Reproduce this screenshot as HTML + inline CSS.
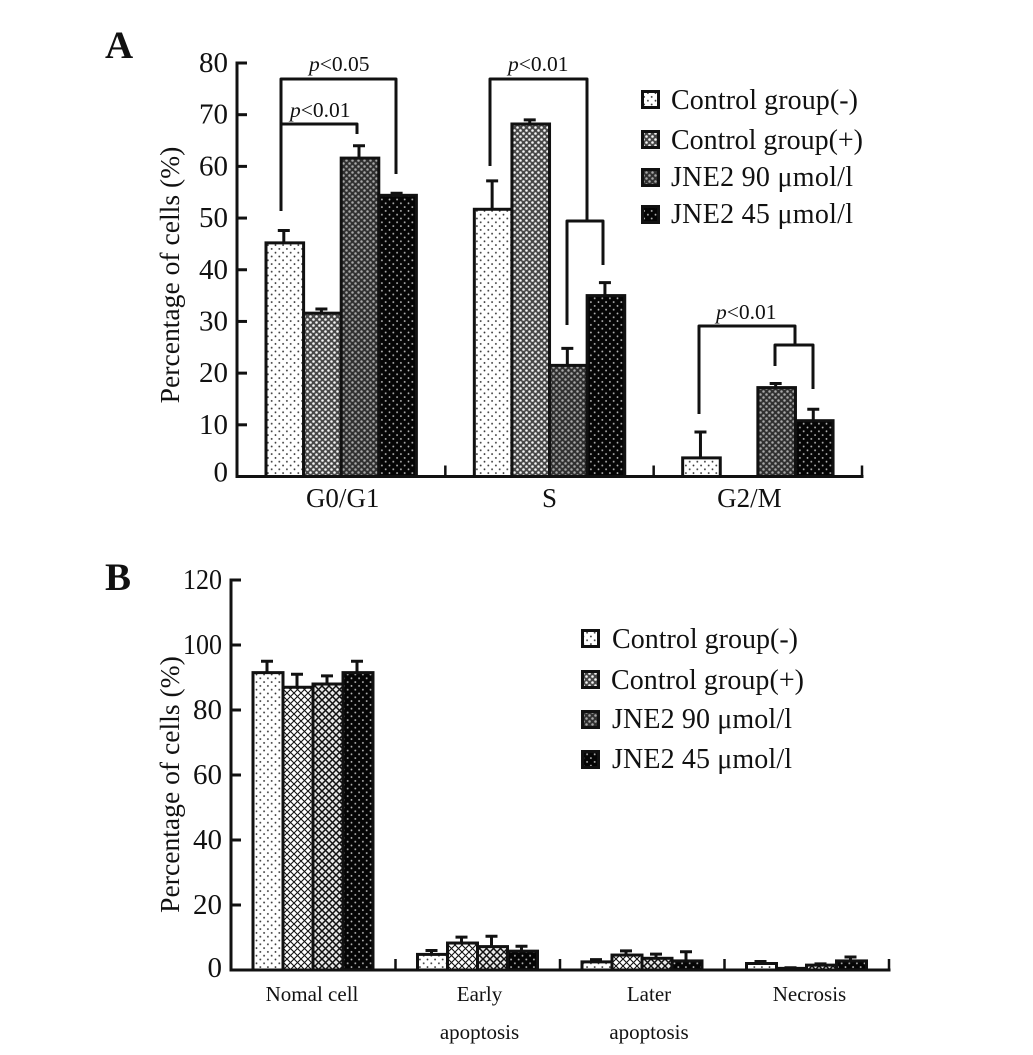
<!DOCTYPE html>
<html lang="en">
<head>
<meta charset="utf-8">
<title>Cell cycle and apoptosis chart</title>
<style>
html,body{margin:0;padding:0;background:#fff;}
svg{display:block;}
text{font-family:"Liberation Serif",serif;fill:#111;}
</style>
</head>
<body>
<svg id="chart" xmlns="http://www.w3.org/2000/svg" width="1033" height="1055" viewBox="0 0 1033 1055">
<defs>
<pattern id="p0" patternUnits="userSpaceOnUse" width="7.6" height="7.6">
<rect width="7.6" height="7.6" fill="#fff"/>
<circle cx="1.9" cy="1.9" r="0.9" fill="#333"/><circle cx="5.7" cy="5.7" r="0.9" fill="#333"/>
</pattern>
<pattern id="p1" patternUnits="userSpaceOnUse" width="6" height="6">
<rect width="6" height="6" fill="#484848"/>
<circle cx="1.5" cy="1.5" r="1.3" fill="#f4f4f4"/><circle cx="4.5" cy="4.5" r="1.3" fill="#f4f4f4"/>
</pattern>
<pattern id="p2" patternUnits="userSpaceOnUse" width="6" height="6">
<rect width="6" height="6" fill="#303030"/>
<circle cx="1.5" cy="1.5" r="1.25" fill="#a8a8a8"/><circle cx="4.5" cy="4.5" r="1.25" fill="#a8a8a8"/>
</pattern>
<pattern id="p3" patternUnits="userSpaceOnUse" width="7.6" height="7.6">
<rect width="7.6" height="7.6" fill="#050505"/>
<circle cx="1.9" cy="1.9" r="0.9" fill="#bbb"/><circle cx="5.7" cy="5.7" r="0.9" fill="#bbb"/>
</pattern>
<pattern id="q1" patternUnits="userSpaceOnUse" width="7" height="7">
<rect width="7" height="7" fill="#fff"/>
<path d="M0 0L7 7M7 0L0 7" stroke="#111" stroke-width="1.1"/>
</pattern>
<pattern id="q2" patternUnits="userSpaceOnUse" width="7" height="7">
<rect width="7" height="7" fill="#e8e8e8"/>
<path d="M0 0L7 7M7 0L0 7" stroke="#111" stroke-width="1.5"/>
</pattern>
</defs>
<rect width="1033" height="1055" fill="#fff"/>

<text x="105" y="58" font-size="39" font-weight="bold">A</text>
<text x="105" y="590" font-size="39" font-weight="bold">B</text>

<text transform="translate(179,275) rotate(-90)" font-size="27.6" text-anchor="middle">Percentage of cells (%)</text>
<text transform="translate(179,784.5) rotate(-90)" font-size="27.6" text-anchor="middle">Percentage of cells (%)</text>

<g id="panelA"></g>
<g id="panelB"></g>

<g fill="none" stroke="#111" stroke-width="3" stroke-linejoin="round">
<path d="M281 211V79H396V174"/>
<path d="M281 124H357V134"/>
<path d="M490 166V79H587V221"/>
<path d="M567 325V221H603V265"/>
<path d="M699 414V326H795V345"/>
<path d="M775 366V345H813V389"/>
</g>
<g font-size="21.5">
<text x="309" y="71"><tspan font-style="italic">p</tspan>&lt;0.05</text>
<text x="290" y="117"><tspan font-style="italic">p</tspan>&lt;0.01</text>
<text x="508" y="71"><tspan font-style="italic">p</tspan>&lt;0.01</text>
<text x="716" y="319"><tspan font-style="italic">p</tspan>&lt;0.01</text>
</g>

<g font-size="28">
<g><rect x="642.5" y="91.5" width="16" height="16" fill="url(#p0)" stroke="#111" stroke-width="3"/><text x="671" y="109" textLength="187">Control group(-)</text></g>
<g><rect x="642.5" y="131.5" width="16" height="16" fill="url(#p1)" stroke="#111" stroke-width="3"/><text x="671" y="149" textLength="192">Control group(+)</text></g>
<g><rect x="642.5" y="169.5" width="16" height="16" fill="url(#p2)" stroke="#111" stroke-width="3"/><text x="671" y="186" textLength="182">JNE2 90 μmol/l</text></g>
<g><rect x="642.5" y="206.5" width="16" height="16" fill="url(#p3)" stroke="#111" stroke-width="3"/><text x="671" y="223" textLength="182">JNE2 45 μmol/l</text></g>
</g>
<g font-size="28">
<g><rect x="582.5" y="630.5" width="16" height="16" fill="url(#p0)" stroke="#111" stroke-width="3"/><text x="612" y="648" textLength="186">Control group(-)</text></g>
<g><rect x="582.5" y="671.5" width="16" height="16" fill="url(#p1)" stroke="#111" stroke-width="3"/><text x="611" y="689" textLength="193">Control group(+)</text></g>
<g><rect x="582.5" y="711.5" width="16" height="16" fill="url(#p2)" stroke="#111" stroke-width="3"/><text x="612" y="728" textLength="180">JNE2 90 μmol/l</text></g>
<g><rect x="582.5" y="751.5" width="16" height="16" fill="url(#p3)" stroke="#111" stroke-width="3"/><text x="612" y="768" textLength="180">JNE2 45 μmol/l</text></g>
</g>
</svg>
<script>
var seriesNames = ["control-negative", "control-positive", "jne2-90", "jne2-45"];

var categoriesA = ["G0/G1", "S", "G2/M"];
var controlNegativeA = [45.2, 51.7, 3.6];
var controlPositiveA = [31.6, 68.2, 0];
var jne90A = [61.6, 21.5, 17.2];
var jne45A = [54.4, 35, 10.8];
var controlNegativeErrA = [2.4, 5.5, 5];
var controlPositiveErrA = [0.8, 0.8, 0];
var jne90ErrA = [2.4, 3.3, 0.8];
var jne45ErrA = [0.4, 2.5, 2.2];
var ticksA = [0, 10, 20, 30, 40, 50, 60, 70, 80];

var categoriesB = ["Nomal cell", "Early", "Later", "Necrosis"];
var categorySubLabelsB = ["", "apoptosis", "apoptosis", ""];
var controlNegativeB = [91.5, 4.8, 2.5, 2];
var controlPositiveB = [87, 8.3, 4.6, 0.5];
var jne90B = [88, 7.2, 3.6, 1.5];
var jne45B = [91.5, 5.8, 2.8, 2.8];
var controlNegativeErrB = [3.5, 1.2, 0.7, 0.6];
var controlPositiveErrB = [4, 1.8, 1.3, 0.2];
var jne90ErrB = [2.5, 3.2, 1.3, 0.4];
var jne45ErrB = [3.5, 1.5, 2.8, 1.2];
var ticksB = [0, 20, 40, 60, 80, 100, 120];

var NS = "http://www.w3.org/2000/svg";
function make(tag, parent, attrs, text) {
  var el = document.createElementNS(NS, tag);
  for (var k in attrs) { el.setAttribute(k, attrs[k]); }
  if (text !== undefined) { el.textContent = text; }
  parent.appendChild(el);
  return el;
}

function drawPanel(cfg) {
  var root = cfg.root;
  var y = function (v) { return cfg.y0 - (v - 0) * (cfg.y0 - cfg.yTop) / cfg.yMax; };
  var groupW = (cfg.xEnd - cfg.xStart) / cfg.categories.length;
  var x = function (g, s) { return cfg.xStart + groupW * g + cfg.inset + s * cfg.barW; };

  cfg.series.forEach(function (vals, s) {
    vals.forEach(function (v, g) {
      if (v <= 0) { return; }
      var bx = x(g, s);
      var err = cfg.errors[s][g];
      var cx = bx + cfg.barW / 2;
      var eb = make("path", root, {
        d: "M" + cx + " " + y(v) + "V" + y(v + err) + "M" + (cx - 6) + " " + y(v + err) + "H" + (cx + 6),
        fill: "none", stroke: "#111", "stroke-width": 3
      });
      
      
    });
  });
  cfg.series.forEach(function (vals, s) {
    vals.forEach(function (v, g) {
      if (v <= 0) { return; }
      var bar = make("rect", root, {
        x: x(g, s) + 1, y: y(v), width: cfg.barW, height: cfg.y0 - y(v),
        fill: "url(#" + cfg.fills[s] + ")", stroke: "#111", "stroke-width": 3
      });
      
      
    });
  });

  var yAxis = make("line", root, { x1: cfg.xStart, x2: cfg.xStart, y1: y(cfg.yMax) - 1.5, y2: cfg.y0 + 1.5, stroke: "#111", "stroke-width": 3 });
  
  
  var xAxis = make("line", root, { x1: cfg.xStart, x2: cfg.xEnd + 1.5, y1: cfg.y0, y2: cfg.y0, stroke: "#111", "stroke-width": 3 });
  
  

  cfg.ticks.forEach(function (t) {
    var tick = make("line", root, { x1: cfg.xStart, x2: cfg.xStart + 10, y1: y(t), y2: y(t), stroke: "#111", "stroke-width": 3 });
    
    
    var labelY = y(t) + cfg.tickDy - (t === 0 ? cfg.zeroLift : 0);
    var lab = make("text", root, { x: cfg.xStart - 9, y: labelY, "text-anchor": "end", "font-size": 29 }, String(t));
    
    
    if (String(t).length === 3) {
      lab.setAttribute("textLength", 39);
      lab.setAttribute("lengthAdjust", "spacingAndGlyphs");
    }
  });

  cfg.categories.forEach(function (c, g) {
    var edge = cfg.xStart + groupW * (g + 1);
    var sep = make("line", root, { x1: edge, x2: edge, y1: cfg.y0 - 11, y2: cfg.y0, stroke: "#111", "stroke-width": 2.5 });
    
    
    var lx = x(g, 2) + cfg.labelShift[g];
    var lab = make("text", root, { x: lx, y: cfg.labelY, "text-anchor": "middle", "font-size": cfg.labelSize }, c);
    
    
    if (cfg.subLabels && cfg.subLabels[g]) {
      var sub = make("text", root, { x: lx, y: cfg.labelY + 38, "text-anchor": "middle", "font-size": cfg.labelSize }, cfg.subLabels[g]);
      
      
    }
  });
}

drawPanel({
  root: document.getElementById("panelA"),
  categories: categoriesA,
  series: [controlNegativeA, controlPositiveA, jne90A, jne45A],
  errors: [controlNegativeErrA, controlPositiveErrA, jne90ErrA, jne45ErrA],
  ticks: ticksA,
  fills: ["p0", "p1", "p2", "p3"],
  xStart: 237, xEnd: 862, y0: 476.5, yTop: 63, yMax: 80,
  inset: 28, barW: 37.6, tickDy: 9, zeroLift: 4,
  labelY: 507, labelSize: 27, labelShift: [2.5, 1, -7.5]
});

drawPanel({
  root: document.getElementById("panelB"),
  categories: categoriesB,
  subLabels: categorySubLabelsB,
  series: [controlNegativeB, controlPositiveB, jne90B, jne45B],
  errors: [controlNegativeErrB, controlPositiveErrB, jne90ErrB, jne45ErrB],
  ticks: ticksB,
  fills: ["p0", "q1", "q2", "p3"],
  xStart: 231, xEnd: 889, y0: 970, yTop: 580, yMax: 120,
  inset: 21, barW: 30, tickDy: 9, zeroLift: 2,
  labelY: 1001, labelSize: 21, labelShift: [0, 3, 8, 4]
});
</script>
</body>
</html>
